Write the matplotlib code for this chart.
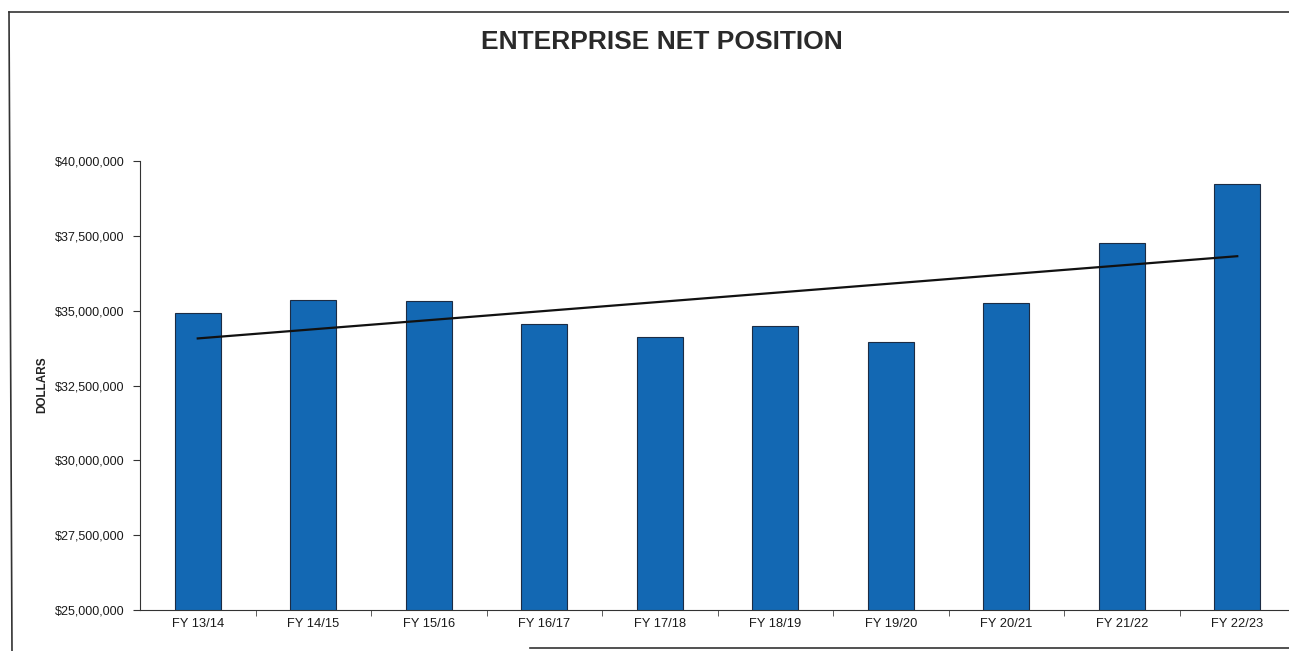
import matplotlib
matplotlib.use("Agg")
import matplotlib.pyplot as plt
from matplotlib.lines import Line2D
from matplotlib.ticker import FuncFormatter
import numpy as np

plt.rcParams['font.family'] = ['Liberation Sans', 'DejaVu Sans']

years = ["FY 13/14", "FY 14/15", "FY 15/16", "FY 16/17", "FY 17/18",
         "FY 18/19", "FY 19/20", "FY 20/21", "FY 21/22", "FY 22/23"]
net_position = [34.92, 35.36, 35.32, 34.55, 34.12,
                34.49, 33.95, 35.26, 37.26, 39.23]   # millions of dollars
net_position = [v * 1e6 for v in net_position]

fig = plt.figure(figsize=(12.89, 6.51), dpi=100)
ax = fig.add_axes([140 / 1289, 41 / 651, 1155 / 1289, 449 / 651])

ind = np.arange(len(years))
ax.bar(ind, net_position, 0.4, color='#1368b3', edgecolor='#1c2c44',
       linewidth=0.8, zorder=2)

# linear trend line over the bars
coef = np.polyfit(ind, net_position, 1)
ax.plot(ind, np.polyval(coef, ind), color='#111111', lw=1.6, zorder=3)

ax.set_xlim(-0.5, 9.5)
ax.set_ylim(25e6, 40e6)
ax.set_yticks(np.arange(25e6, 40e6 + 1, 2.5e6))
ax.yaxis.set_major_formatter(FuncFormatter(lambda v, p: "${:,.0f}".format(v)))
ax.set_xticks(ind)
ax.set_xticklabels(years)
ax.set_xticks(ind[:-1] + 0.5, minor=True)
ax.tick_params(axis='x', which='major', length=0, pad=6, labelsize=9.3,
               labelcolor='#1a1a1a')
ax.tick_params(axis='x', which='minor', length=4, color='#444444')
ax.tick_params(axis='y', length=5, pad=6, labelsize=9, labelcolor='#1a1a1a',
               color='#333333')

for s in ['top', 'right']:
    ax.spines[s].set_visible(False)
ax.spines['left'].set_color('#333333')
ax.spines['bottom'].set_color('#333333')

fig.text(42 / 1289, 1 - 385 / 651, "DOLLARS", rotation=90, ha='center',
         va='center', fontsize=8.5, fontweight='bold', color='#222222')
fig.text(662 / 1289, 1 - 42 / 651, "ENTERPRISE NET POSITION", ha='center',
         va='center', fontsize=19, fontweight='bold', color='#2a2a2a')

# scanned frame around the chart
fig.add_artist(Line2D([9 / 1289, 1], [1 - 12 / 651, 1 - 12 / 651],
                      transform=fig.transFigure, color='#333333', lw=1.2))
fig.add_artist(Line2D([9 / 1289, 12 / 1289], [1 - 12 / 651, 0],
                      transform=fig.transFigure, color='#333333', lw=1.2))
fig.add_artist(Line2D([530 / 1289, 1], [1 - 648 / 651, 1 - 648 / 651],
                      transform=fig.transFigure, color='#333333', lw=1.2))

fig.savefig("out.png", dpi=100)
